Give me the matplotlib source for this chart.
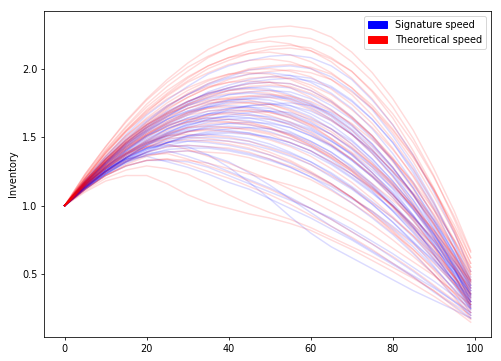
import matplotlib
matplotlib.use("Agg")
import matplotlib.pyplot as plt
import matplotlib.patches as mpatches

x_samples = [0, 5, 10, 15, 20, 25, 30, 35, 40, 45, 50, 55, 60, 65, 70, 75, 80, 85, 90, 95, 99]

# Inventory paths with signature speed (blue)
signature_paths = [
    [1.00, 1.19, 1.36, 1.52, 1.66, 1.77, 1.87, 1.96, 2.02, 2.06, 2.09, 2.10, 2.08, 2.02, 1.92, 1.77, 1.59, 1.37, 1.10, 0.80, 0.52],
    [1.00, 1.18, 1.34, 1.48, 1.61, 1.72, 1.81, 1.89, 1.94, 1.99, 2.01, 2.02, 2.00, 1.94, 1.84, 1.70, 1.51, 1.29, 1.03, 0.72, 0.45],
    [1.00, 1.18, 1.35, 1.50, 1.62, 1.73, 1.81, 1.88, 1.93, 1.96, 1.97, 1.95, 1.90, 1.82, 1.71, 1.56, 1.38, 1.17, 0.92, 0.65, 0.40],
    [1.00, 1.16, 1.31, 1.44, 1.55, 1.65, 1.74, 1.81, 1.86, 1.90, 1.92, 1.93, 1.91, 1.86, 1.76, 1.63, 1.46, 1.26, 1.01, 0.73, 0.48],
    [1.00, 1.17, 1.32, 1.46, 1.58, 1.68, 1.76, 1.82, 1.86, 1.89, 1.90, 1.89, 1.84, 1.76, 1.65, 1.51, 1.33, 1.13, 0.89, 0.62, 0.38],
    [1.00, 1.17, 1.31, 1.44, 1.56, 1.65, 1.73, 1.79, 1.84, 1.86, 1.87, 1.86, 1.81, 1.73, 1.63, 1.49, 1.33, 1.13, 0.90, 0.65, 0.42],
    [1.00, 1.16, 1.30, 1.43, 1.54, 1.63, 1.71, 1.76, 1.81, 1.83, 1.84, 1.83, 1.78, 1.70, 1.59, 1.45, 1.28, 1.08, 0.85, 0.58, 0.35],
    [1.00, 1.17, 1.32, 1.46, 1.57, 1.66, 1.73, 1.78, 1.81, 1.82, 1.81, 1.77, 1.71, 1.63, 1.52, 1.38, 1.22, 1.04, 0.83, 0.60, 0.40],
    [1.00, 1.15, 1.29, 1.41, 1.51, 1.60, 1.67, 1.73, 1.77, 1.79, 1.80, 1.79, 1.74, 1.66, 1.55, 1.41, 1.24, 1.04, 0.80, 0.54, 0.30],
    [1.00, 1.16, 1.31, 1.43, 1.54, 1.63, 1.69, 1.74, 1.77, 1.78, 1.77, 1.73, 1.67, 1.59, 1.48, 1.34, 1.18, 1.00, 0.80, 0.56, 0.36],
    [1.00, 1.16, 1.30, 1.42, 1.53, 1.61, 1.68, 1.72, 1.75, 1.76, 1.75, 1.71, 1.65, 1.56, 1.45, 1.32, 1.16, 0.97, 0.76, 0.53, 0.32],
    [1.00, 1.14, 1.27, 1.38, 1.47, 1.56, 1.62, 1.67, 1.71, 1.73, 1.74, 1.73, 1.69, 1.62, 1.52, 1.40, 1.25, 1.08, 0.87, 0.64, 0.44],
    [1.00, 1.15, 1.28, 1.40, 1.50, 1.58, 1.64, 1.69, 1.71, 1.72, 1.71, 1.67, 1.61, 1.52, 1.41, 1.28, 1.12, 0.93, 0.72, 0.49, 0.28],
    [1.00, 1.15, 1.28, 1.39, 1.48, 1.56, 1.62, 1.67, 1.69, 1.70, 1.69, 1.66, 1.60, 1.52, 1.42, 1.29, 1.15, 0.98, 0.78, 0.57, 0.38],
    [1.00, 1.16, 1.30, 1.41, 1.51, 1.58, 1.64, 1.67, 1.68, 1.67, 1.64, 1.59, 1.53, 1.44, 1.33, 1.21, 1.06, 0.89, 0.71, 0.51, 0.33],
    [1.00, 1.14, 1.26, 1.37, 1.46, 1.53, 1.59, 1.63, 1.65, 1.66, 1.65, 1.61, 1.56, 1.47, 1.37, 1.24, 1.09, 0.91, 0.72, 0.49, 0.30],
    [1.00, 1.15, 1.28, 1.40, 1.49, 1.56, 1.61, 1.64, 1.65, 1.64, 1.61, 1.57, 1.51, 1.43, 1.33, 1.21, 1.08, 0.92, 0.75, 0.56, 0.40],
    [1.00, 1.15, 1.28, 1.38, 1.47, 1.54, 1.59, 1.62, 1.63, 1.62, 1.59, 1.54, 1.47, 1.39, 1.28, 1.15, 1.00, 0.84, 0.65, 0.45, 0.27],
    [1.00, 1.13, 1.24, 1.34, 1.42, 1.49, 1.54, 1.58, 1.60, 1.61, 1.60, 1.57, 1.51, 1.44, 1.34, 1.22, 1.08, 0.92, 0.74, 0.53, 0.35],
    [1.00, 1.14, 1.26, 1.37, 1.45, 1.52, 1.56, 1.59, 1.60, 1.59, 1.56, 1.52, 1.45, 1.37, 1.26, 1.14, 1.00, 0.84, 0.67, 0.47, 0.30],
    [1.00, 1.14, 1.25, 1.35, 1.44, 1.50, 1.54, 1.57, 1.58, 1.57, 1.54, 1.49, 1.43, 1.34, 1.23, 1.11, 0.96, 0.80, 0.62, 0.42, 0.24],
    [1.00, 1.15, 1.27, 1.38, 1.46, 1.51, 1.55, 1.56, 1.55, 1.53, 1.49, 1.44, 1.38, 1.30, 1.20, 1.09, 0.97, 0.83, 0.67, 0.51, 0.36],
    [1.00, 1.13, 1.24, 1.33, 1.41, 1.46, 1.51, 1.53, 1.54, 1.53, 1.50, 1.46, 1.40, 1.31, 1.21, 1.10, 0.96, 0.81, 0.64, 0.45, 0.28],
    [1.00, 1.14, 1.25, 1.35, 1.42, 1.48, 1.51, 1.52, 1.51, 1.49, 1.45, 1.39, 1.32, 1.23, 1.13, 1.01, 0.88, 0.73, 0.56, 0.38, 0.22],
    [1.00, 1.13, 1.25, 1.34, 1.41, 1.46, 1.49, 1.50, 1.49, 1.47, 1.43, 1.38, 1.32, 1.24, 1.14, 1.03, 0.91, 0.77, 0.61, 0.45, 0.30],
    [1.00, 1.14, 1.26, 1.35, 1.42, 1.46, 1.47, 1.46, 1.44, 1.41, 1.37, 1.31, 1.24, 1.16, 1.06, 0.95, 0.83, 0.70, 0.55, 0.39, 0.25],
    [1.00, 1.14, 1.25, 1.33, 1.39, 1.43, 1.44, 1.43, 1.41, 1.38, 1.34, 1.28, 1.21, 1.12, 1.02, 0.91, 0.79, 0.65, 0.50, 0.34, 0.20],
    [1.00, 1.13, 1.25, 1.35, 1.42, 1.44, 1.43, 1.37, 1.28, 1.17, 1.05, 0.92, 0.80, 0.70, 0.62, 0.54, 0.46, 0.38, 0.31, 0.24, 0.18],
    [1.00, 1.12, 1.23, 1.31, 1.37, 1.39, 1.40, 1.37, 1.32, 1.24, 1.15, 1.05, 0.95, 0.85, 0.76, 0.67, 0.58, 0.49, 0.40, 0.30, 0.22],
    [1.00, 1.12, 1.22, 1.29, 1.33, 1.33, 1.32, 1.28, 1.22, 1.16, 1.10, 1.04, 0.98, 0.91, 0.83, 0.74, 0.65, 0.55, 0.45, 0.34, 0.25],
    [1.00, 1.16, 1.27, 1.34, 1.36, 1.32, 1.28, 1.23, 1.17, 1.12, 1.05, 0.98, 0.91, 0.83, 0.75, 0.66, 0.57, 0.48, 0.37, 0.27, 0.18],
    [1.00, 1.13, 1.23, 1.32, 1.37, 1.41, 1.42, 1.42, 1.40, 1.37, 1.33, 1.28, 1.21, 1.14, 1.05, 0.96, 0.85, 0.73, 0.60, 0.45, 0.33],
    [1.00, 1.14, 1.26, 1.34, 1.38, 1.40, 1.36, 1.31, 1.25, 1.19, 1.13, 1.06, 0.98, 0.90, 0.81, 0.72, 0.62, 0.52, 0.41, 0.30, 0.20],
    [1.00, 1.17, 1.31, 1.45, 1.57, 1.67, 1.75, 1.83, 1.88, 1.92, 1.94, 1.95, 1.93, 1.87, 1.77, 1.63, 1.46, 1.24, 0.98, 0.69, 0.42],
    [1.00, 1.18, 1.34, 1.48, 1.59, 1.69, 1.76, 1.82, 1.85, 1.86, 1.85, 1.81, 1.75, 1.67, 1.56, 1.43, 1.27, 1.09, 0.89, 0.66, 0.46],
    [1.00, 1.15, 1.28, 1.40, 1.51, 1.59, 1.66, 1.72, 1.76, 1.78, 1.79, 1.78, 1.73, 1.65, 1.53, 1.39, 1.22, 1.01, 0.77, 0.50, 0.26],
    [1.00, 1.17, 1.32, 1.45, 1.55, 1.63, 1.69, 1.72, 1.73, 1.72, 1.69, 1.64, 1.57, 1.48, 1.37, 1.24, 1.10, 0.93, 0.74, 0.53, 0.35],
    [1.00, 1.13, 1.25, 1.35, 1.44, 1.52, 1.58, 1.63, 1.66, 1.68, 1.69, 1.68, 1.63, 1.56, 1.47, 1.34, 1.18, 1.00, 0.79, 0.55, 0.34],
    [1.00, 1.13, 1.25, 1.36, 1.44, 1.51, 1.57, 1.61, 1.63, 1.64, 1.63, 1.60, 1.55, 1.47, 1.38, 1.26, 1.13, 0.97, 0.79, 0.59, 0.42],
    [1.00, 1.12, 1.23, 1.32, 1.39, 1.46, 1.51, 1.54, 1.56, 1.57, 1.56, 1.53, 1.47, 1.39, 1.29, 1.16, 1.02, 0.85, 0.65, 0.44, 0.25],
    [1.00, 1.12, 1.23, 1.32, 1.40, 1.46, 1.50, 1.52, 1.53, 1.52, 1.50, 1.46, 1.40, 1.32, 1.23, 1.13, 1.00, 0.86, 0.70, 0.53, 0.38],
    [1.00, 1.13, 1.24, 1.32, 1.39, 1.44, 1.47, 1.48, 1.47, 1.45, 1.41, 1.36, 1.30, 1.21, 1.12, 1.01, 0.88, 0.74, 0.59, 0.42, 0.27],
    [1.00, 1.13, 1.25, 1.35, 1.45, 1.53, 1.60, 1.65, 1.70, 1.73, 1.74, 1.75, 1.73, 1.68, 1.58, 1.45, 1.28, 1.08, 0.83, 0.55, 0.30],
]

# Inventory paths with theoretical speed (red)
theoretical_paths = [
    [1.00, 1.23, 1.43, 1.62, 1.78, 1.92, 2.04, 2.14, 2.21, 2.27, 2.30, 2.31, 2.29, 2.23, 2.12, 1.97, 1.78, 1.55, 1.27, 0.96, 0.67],
    [1.00, 1.22, 1.41, 1.58, 1.74, 1.87, 1.98, 2.08, 2.15, 2.20, 2.23, 2.24, 2.22, 2.16, 2.05, 1.91, 1.72, 1.49, 1.22, 0.90, 0.62],
    [1.00, 1.23, 1.43, 1.61, 1.77, 1.90, 2.01, 2.09, 2.15, 2.19, 2.20, 2.18, 2.13, 2.05, 1.93, 1.78, 1.59, 1.37, 1.12, 0.83, 0.58],
    [1.00, 1.20, 1.38, 1.54, 1.68, 1.81, 1.91, 2.00, 2.06, 2.11, 2.14, 2.15, 2.13, 2.07, 1.98, 1.84, 1.67, 1.46, 1.21, 0.92, 0.66],
    [1.00, 1.21, 1.40, 1.57, 1.72, 1.84, 1.94, 2.02, 2.08, 2.11, 2.12, 2.10, 2.05, 1.97, 1.86, 1.71, 1.53, 1.32, 1.07, 0.80, 0.55],
    [1.00, 1.20, 1.39, 1.55, 1.69, 1.80, 1.90, 1.97, 2.03, 2.06, 2.07, 2.05, 2.00, 1.92, 1.81, 1.66, 1.48, 1.27, 1.02, 0.75, 0.50],
    [1.00, 1.18, 1.34, 1.49, 1.61, 1.72, 1.82, 1.89, 1.95, 2.00, 2.02, 2.03, 2.01, 1.96, 1.86, 1.73, 1.56, 1.36, 1.11, 0.83, 0.58],
    [1.00, 1.19, 1.36, 1.51, 1.64, 1.75, 1.84, 1.91, 1.96, 1.99, 2.00, 1.98, 1.94, 1.85, 1.74, 1.60, 1.42, 1.21, 0.97, 0.69, 0.45],
    [1.00, 1.20, 1.38, 1.54, 1.67, 1.78, 1.86, 1.92, 1.96, 1.97, 1.96, 1.92, 1.86, 1.77, 1.65, 1.51, 1.34, 1.15, 0.94, 0.69, 0.48],
    [1.00, 1.18, 1.34, 1.48, 1.60, 1.71, 1.79, 1.86, 1.90, 1.93, 1.94, 1.93, 1.88, 1.81, 1.70, 1.57, 1.41, 1.22, 0.99, 0.74, 0.52],
    [1.00, 1.19, 1.36, 1.51, 1.63, 1.73, 1.81, 1.87, 1.90, 1.91, 1.90, 1.86, 1.79, 1.70, 1.59, 1.44, 1.28, 1.08, 0.86, 0.62, 0.40],
    [1.00, 1.17, 1.32, 1.45, 1.56, 1.66, 1.74, 1.80, 1.84, 1.87, 1.88, 1.87, 1.82, 1.75, 1.64, 1.51, 1.35, 1.16, 0.93, 0.68, 0.46],
    [1.00, 1.18, 1.34, 1.47, 1.59, 1.68, 1.76, 1.81, 1.84, 1.85, 1.84, 1.80, 1.74, 1.66, 1.55, 1.41, 1.25, 1.07, 0.87, 0.63, 0.43],
    [1.00, 1.17, 1.33, 1.46, 1.57, 1.67, 1.74, 1.79, 1.82, 1.83, 1.82, 1.78, 1.72, 1.63, 1.52, 1.38, 1.21, 1.02, 0.81, 0.57, 0.36],
    [1.00, 1.17, 1.32, 1.45, 1.55, 1.64, 1.71, 1.76, 1.79, 1.80, 1.79, 1.76, 1.70, 1.62, 1.52, 1.40, 1.25, 1.09, 0.90, 0.69, 0.50],
    [1.00, 1.18, 1.34, 1.48, 1.59, 1.67, 1.73, 1.77, 1.78, 1.77, 1.74, 1.69, 1.62, 1.54, 1.43, 1.30, 1.15, 0.99, 0.80, 0.60, 0.42],
    [1.00, 1.16, 1.30, 1.42, 1.52, 1.60, 1.67, 1.71, 1.74, 1.75, 1.74, 1.70, 1.64, 1.56, 1.45, 1.31, 1.16, 0.98, 0.77, 0.54, 0.34],
    [1.00, 1.17, 1.32, 1.44, 1.54, 1.62, 1.68, 1.71, 1.72, 1.71, 1.68, 1.64, 1.58, 1.49, 1.39, 1.28, 1.14, 0.99, 0.82, 0.63, 0.46],
    [1.00, 1.16, 1.31, 1.43, 1.53, 1.60, 1.66, 1.69, 1.70, 1.69, 1.66, 1.61, 1.54, 1.45, 1.34, 1.21, 1.06, 0.89, 0.70, 0.48, 0.30],
    [1.00, 1.16, 1.29, 1.41, 1.50, 1.58, 1.63, 1.66, 1.67, 1.66, 1.63, 1.59, 1.52, 1.44, 1.34, 1.22, 1.08, 0.92, 0.74, 0.55, 0.38],
    [1.00, 1.17, 1.31, 1.43, 1.52, 1.59, 1.63, 1.64, 1.63, 1.61, 1.57, 1.51, 1.44, 1.35, 1.25, 1.12, 0.99, 0.84, 0.66, 0.48, 0.32],
    [1.00, 1.14, 1.27, 1.37, 1.46, 1.52, 1.57, 1.60, 1.61, 1.60, 1.57, 1.52, 1.46, 1.37, 1.26, 1.14, 0.99, 0.82, 0.64, 0.44, 0.26],
    [1.00, 1.15, 1.28, 1.39, 1.47, 1.53, 1.57, 1.58, 1.57, 1.55, 1.52, 1.46, 1.40, 1.32, 1.23, 1.12, 1.00, 0.86, 0.71, 0.54, 0.40],
    [1.00, 1.15, 1.27, 1.37, 1.45, 1.51, 1.54, 1.55, 1.54, 1.52, 1.48, 1.43, 1.36, 1.27, 1.17, 1.05, 0.92, 0.78, 0.61, 0.43, 0.28],
    [1.00, 1.16, 1.29, 1.39, 1.46, 1.51, 1.52, 1.51, 1.50, 1.47, 1.42, 1.37, 1.30, 1.22, 1.13, 1.02, 0.91, 0.78, 0.64, 0.48, 0.35],
    [1.00, 1.15, 1.27, 1.36, 1.43, 1.47, 1.48, 1.47, 1.45, 1.42, 1.37, 1.32, 1.24, 1.16, 1.06, 0.94, 0.82, 0.68, 0.53, 0.36, 0.22],
    [1.00, 1.14, 1.25, 1.33, 1.39, 1.43, 1.44, 1.43, 1.42, 1.39, 1.34, 1.29, 1.23, 1.15, 1.06, 0.96, 0.84, 0.72, 0.58, 0.43, 0.30],
    [1.00, 1.14, 1.24, 1.32, 1.37, 1.38, 1.34, 1.29, 1.24, 1.18, 1.12, 1.05, 0.98, 0.90, 0.81, 0.72, 0.63, 0.53, 0.42, 0.31, 0.22],
    [1.00, 1.12, 1.22, 1.29, 1.33, 1.34, 1.30, 1.25, 1.20, 1.14, 1.08, 1.01, 0.93, 0.85, 0.77, 0.68, 0.58, 0.48, 0.38, 0.26, 0.17],
    [1.00, 1.10, 1.18, 1.22, 1.22, 1.16, 1.08, 1.02, 0.98, 0.94, 0.91, 0.87, 0.82, 0.75, 0.68, 0.60, 0.52, 0.43, 0.34, 0.24, 0.15],
    [1.00, 1.11, 1.20, 1.26, 1.29, 1.27, 1.23, 1.16, 1.08, 1.01, 0.95, 0.90, 0.84, 0.77, 0.70, 0.63, 0.55, 0.47, 0.38, 0.28, 0.20],
    [1.00, 1.12, 1.22, 1.29, 1.33, 1.34, 1.33, 1.31, 1.27, 1.23, 1.19, 1.15, 1.10, 1.03, 0.95, 0.86, 0.75, 0.63, 0.50, 0.36, 0.24],
    [1.00, 1.12, 1.22, 1.30, 1.36, 1.39, 1.40, 1.39, 1.38, 1.35, 1.30, 1.25, 1.19, 1.11, 1.02, 0.92, 0.80, 0.68, 0.54, 0.39, 0.26],
    [1.00, 1.20, 1.39, 1.55, 1.70, 1.82, 1.93, 2.02, 2.08, 2.13, 2.16, 2.17, 2.15, 2.08, 1.98, 1.83, 1.64, 1.40, 1.13, 0.81, 0.52],
    [1.00, 1.17, 1.33, 1.47, 1.59, 1.70, 1.79, 1.86, 1.92, 1.96, 1.98, 1.99, 1.97, 1.92, 1.83, 1.71, 1.55, 1.35, 1.12, 0.86, 0.62],
    [1.00, 1.17, 1.32, 1.46, 1.58, 1.68, 1.76, 1.82, 1.86, 1.89, 1.90, 1.89, 1.84, 1.76, 1.64, 1.50, 1.32, 1.12, 0.87, 0.60, 0.36],
    [1.00, 1.15, 1.29, 1.41, 1.52, 1.61, 1.68, 1.74, 1.78, 1.80, 1.81, 1.80, 1.76, 1.69, 1.60, 1.48, 1.34, 1.17, 0.97, 0.75, 0.55],
    [1.00, 1.18, 1.33, 1.46, 1.57, 1.65, 1.71, 1.75, 1.76, 1.75, 1.72, 1.66, 1.59, 1.49, 1.38, 1.24, 1.08, 0.90, 0.70, 0.47, 0.28],
    [1.00, 1.15, 1.27, 1.38, 1.48, 1.55, 1.61, 1.66, 1.68, 1.69, 1.68, 1.65, 1.59, 1.52, 1.42, 1.30, 1.17, 1.00, 0.82, 0.62, 0.44],
    [1.00, 1.16, 1.30, 1.42, 1.51, 1.57, 1.61, 1.62, 1.61, 1.59, 1.56, 1.51, 1.44, 1.36, 1.27, 1.16, 1.04, 0.91, 0.76, 0.59, 0.45],
    [1.00, 1.13, 1.25, 1.35, 1.43, 1.49, 1.54, 1.56, 1.57, 1.56, 1.53, 1.49, 1.43, 1.35, 1.25, 1.13, 1.00, 0.85, 0.68, 0.49, 0.33],
    [1.00, 1.15, 1.28, 1.38, 1.45, 1.49, 1.50, 1.49, 1.47, 1.44, 1.39, 1.33, 1.25, 1.16, 1.06, 0.94, 0.81, 0.66, 0.50, 0.33, 0.18],
    [1.00, 1.16, 1.29, 1.38, 1.43, 1.45, 1.41, 1.36, 1.31, 1.25, 1.19, 1.12, 1.04, 0.96, 0.88, 0.79, 0.69, 0.59, 0.49, 0.37, 0.28],
]

series_labels = ["Signature speed", "Theoretical speed"]
series_colors = ["blue", "red"]

DPI = 70
fig = plt.figure(figsize=(501 / DPI, 361 / DPI), dpi=DPI)
ax = fig.add_axes([44.3 / 501, 1 - 337 / 361, (491 - 44.3) / 501, (337 - 11.3) / 361])

# all signature paths first, theoretical paths drawn on top
for path in signature_paths:
    ax.plot(x_samples, path, color=series_colors[0], alpha=0.14, lw=1.5)
for path in theoretical_paths:
    ax.plot(x_samples, path, color=series_colors[1], alpha=0.14, lw=1.5)

ax.set_xticks([0, 20, 40, 60, 80, 100])
ax.set_yticks([0.5, 1.0, 1.5, 2.0])
ax.set_ylabel("Inventory")

handles = [mpatches.Patch(color=c, label=l) for c, l in zip(series_colors, series_labels)]
ax.legend(handles=handles, loc="upper right")

fig.savefig("out.png", dpi=DPI)
